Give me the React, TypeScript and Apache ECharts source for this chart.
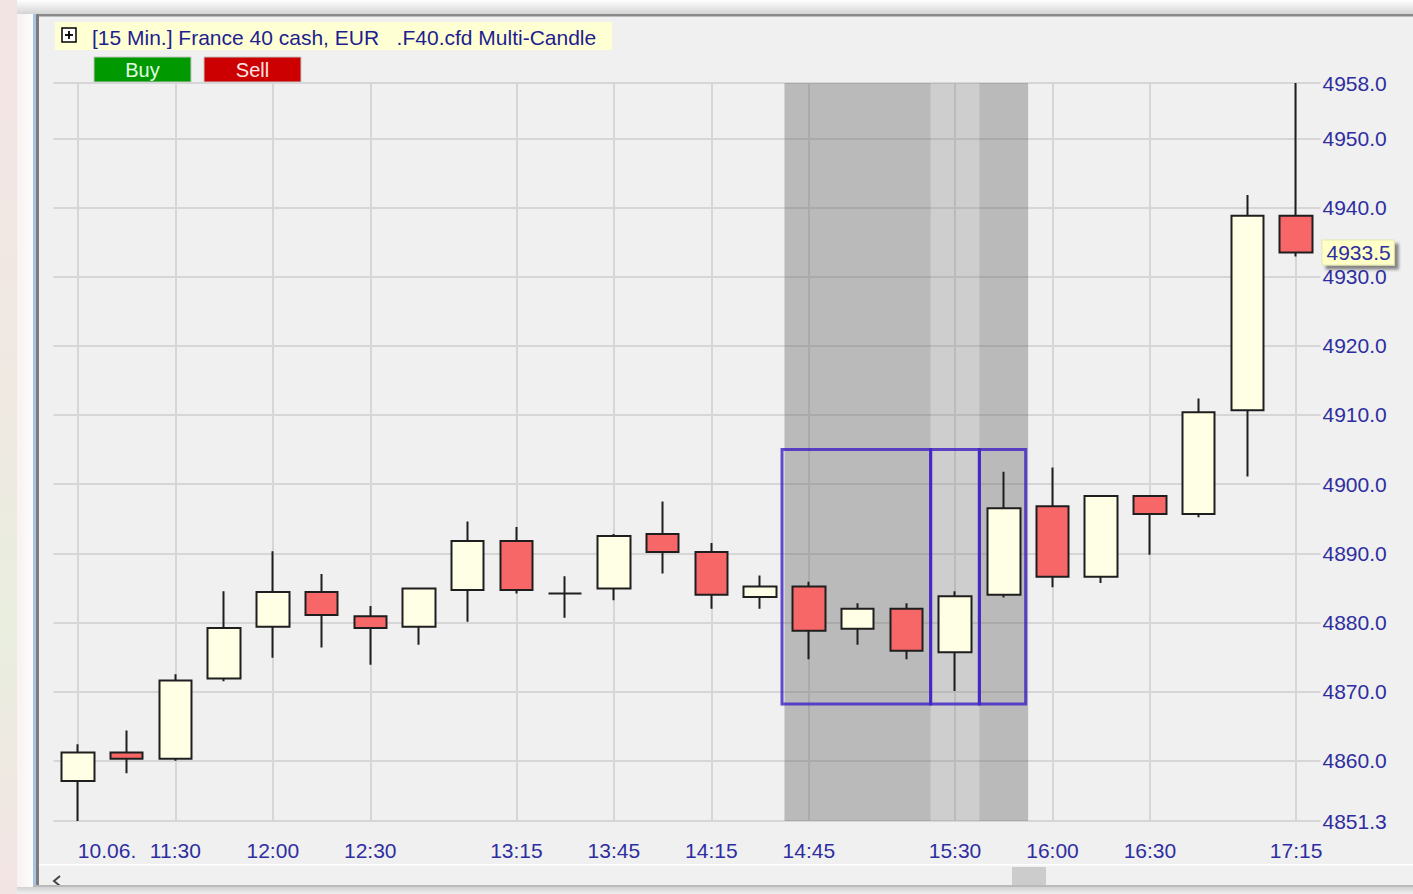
import React, { useEffect, useRef } from "react";
import * as echarts from "echarts";

// ---- data ----
const times = [
  "11:00", "11:15", "11:30", "11:45", "12:00", "12:15", "12:30", "12:45",
  "13:00", "13:15", "13:30", "13:45", "14:00", "14:15", "14:30", "14:45",
  "15:00", "15:15", "15:30", "15:45", "16:00", "16:15", "16:30", "16:45",
  "17:00", "17:15",
];
const dateLabel = "10.06.";
const labelIndices = [0, 2, 4, 6, 9, 11, 13, 15, 18, 20, 22, 25];

const opens = [
  4857.1, 4861.2, 4860.3, 4871.9, 4879.4, 4884.4, 4880.9, 4879.4,
  4884.7, 4891.8, 4884.2, 4884.9, 4892.8, 4890.2, 4883.7, 4885.2,
  4879.1, 4882.0, 4875.7, 4884.0, 4896.8, 4886.6, 4898.3, 4895.7,
  4910.7, 4938.8,
];
const closes = [
  4861.2, 4860.3, 4871.6, 4879.2, 4884.4, 4881.1, 4879.2, 4884.9,
  4891.8, 4884.7, 4884.2, 4892.5, 4890.2, 4884.0, 4885.2, 4878.8,
  4882.0, 4875.9, 4883.8, 4896.5, 4886.6, 4898.3, 4895.7, 4910.4,
  4938.8, 4933.5,
];
const lows = [
  4851.3, 4858.2, 4860.0, 4871.5, 4874.9, 4876.4, 4873.9, 4876.8,
  4880.1, 4884.2, 4880.7, 4883.2, 4887.1, 4882.0, 4882.0, 4874.7,
  4876.8, 4874.7, 4870.1, 4883.6, 4885.1, 4885.7, 4889.8, 4895.2,
  4901.1, 4932.9,
];
const highs = [
  4862.4, 4864.4, 4872.5, 4884.5, 4890.3, 4887.0, 4882.4, 4884.9,
  4894.6, 4893.8, 4886.7, 4892.8, 4897.5, 4891.5, 4886.8, 4885.9,
  4882.8, 4882.8, 4884.5, 4901.8, 4902.4, 4898.3, 4898.3, 4912.4,
  4941.8, 4958.0,
];

const yMin = 4851.3;
const yMax = 4958.0;

// shaded session blocks (in candle-index units, band edges)
const shadeFrom = [14.5, 17.5, 18.5];
const shadeTo = [17.5, 18.5, 19.5];
const shadeDark = [true, false, true];

// multi-candle boxes
const boxFrom = [14.45, 17.5, 18.5];
const boxTo = [17.5, 18.5, 19.45];
const boxLow = 4868.2;
const boxHigh = 4905.0;

const titleText = "[15 Min.] France 40 cash, EUR   .F40.cfd Multi-Candle";
const buyText = "Buy";
const sellText = "Sell";

const FONT = "'Liberation Sans', Arial, sans-serif";
const LABEL_COLOR = "#2e2ea0";

export default function App() {
  const ref = useRef<HTMLDivElement>(null);

  useEffect(() => {
    if (!ref.current) return;
    const chart = echarts.init(ref.current, undefined, { renderer: "svg" });

    const candleData = times.map((_, i) => [opens[i], closes[i], lows[i], highs[i]]);
    const lastClose = closes[closes.length - 1];

    const shadeData = shadeFrom.map((f, i) => [
      {
        xAxis: f,
        itemStyle: {
          color: shadeDark[i] ? "rgba(100,100,100,0.39)" : "rgba(100,100,100,0.24)",
        },
      },
      { xAxis: shadeTo[i] },
    ]);
    const boxData = boxFrom.map((f, i) => [
      { xAxis: f, yAxis: boxLow },
      { xAxis: boxTo[i], yAxis: boxHigh },
    ]);

    const W = 1413;
    const H = 894;

    const option: any = {
      animation: false,
      backgroundColor: "#f0f0f0",
      textStyle: { fontFamily: FONT },
      grid: { left: 53.5, right: W - 1320.5, top: 83, bottom: H - 821, containLabel: false },
      xAxis: [
        {
          type: "category",
          data: times,
          boundaryGap: true,
          axisLine: { show: false },
          axisTick: { show: false },
          axisLabel: {
            interval: (idx: number) => labelIndices.includes(idx),
            formatter: (v: string, idx: number) => (idx === 0 ? dateLabel : v),
            color: LABEL_COLOR,
            fontSize: 21,
            fontFamily: FONT,
            margin: 19,
            alignMinLabel: "left",
          },
          splitLine: {
            show: true,
            alignWithLabel: true,
            interval: (idx: number) => labelIndices.includes(idx),
            lineStyle: { color: "#d6d6d6", width: 2 },
          },
        },
        {
          type: "value",
          min: -0.5,
          max: times.length - 0.5,
          show: false,
          splitLine: { show: false },
        },
      ],
      yAxis: {
        type: "value",
        position: "right",
        min: yMin,
        max: yMax,
        splitNumber: 10,
        scale: true,
        axisLine: { show: false },
        axisTick: { show: false },
        axisLabel: {
          formatter: (v: number) => v.toFixed(1),
          color: LABEL_COLOR,
          fontSize: 21,
          fontFamily: FONT,
          margin: 2,
          showMinLabel: true,
          showMaxLabel: true,
        },
        splitLine: { lineStyle: { color: "#d6d6d6", width: 2 } },
      },
      series: [
        {
          type: "line",
          xAxisIndex: 1,
          yAxisIndex: 0,
          data: [],
          z: 1,
          silent: true,
          markArea: { silent: true, z: 1, data: shadeData },
        },
        {
          type: "candlestick",
          xAxisIndex: 0,
          yAxisIndex: 0,
          data: candleData,
          barWidth: 33,
          z: 3,
          itemStyle: {
            color: "#ffffe6",
            color0: "#f86767",
            borderColor: "#1e1e1e",
            borderColor0: "#1e1e1e",
            borderWidth: 2,
          },
        },
        {
          type: "line",
          xAxisIndex: 1,
          yAxisIndex: 0,
          data: [],
          z: 5,
          silent: true,
          markArea: {
            silent: true,
            z: 5,
            itemStyle: {
              color: "rgba(0,0,0,0)",
              borderColor: "rgba(66,34,196,0.82)",
              borderWidth: 3,
            },
            data: boxData,
          },
          markLine: {
            silent: true,
            z: 10,
            symbol: ["none", "none"],
            lineStyle: { color: "rgba(0,0,0,0)", width: 0, type: "solid" },
            label: {
              show: true,
              position: "end",
              distance: 2,
              formatter: () => lastClose.toFixed(1),
              color: LABEL_COLOR,
              fontSize: 21,
              fontFamily: FONT,
              backgroundColor: "#ffffc8",
              borderColor: "#e6e6b0",
              borderWidth: 1,
              padding: [2, 3, 1, 4],
              shadowColor: "rgba(0,0,0,0.45)",
              shadowBlur: 3,
              shadowOffsetX: 4,
              shadowOffsetY: 4,
            },
            data: [{ yAxis: lastClose }],
          },
        },
      ],
      graphic: [
        // left blurred background strip
        {
          type: "rect",
          shape: { x: 0, y: 0, width: 17, height: H },
          style: {
            fill: new echarts.graphic.LinearGradient(0, 0, 0, 1, [
              { offset: 0, color: "#f3e4e4" },
              { offset: 0.45, color: "#efe9e2" },
              { offset: 0.7, color: "#e9eedf" },
              { offset: 1, color: "#f3e4e4" },
            ]),
          },
          silent: true,
        },
        {
          type: "rect",
          shape: { x: 17, y: 0, width: 17, height: H },
          style: {
            fill: new echarts.graphic.LinearGradient(0, 0, 1, 0, [
              { offset: 0, color: "#f8f1f1" },
              { offset: 1, color: "#fdfdfd" },
            ]),
          },
          silent: true,
        },
        // top shadow strip
        {
          type: "rect",
          shape: { x: 17, y: 0, width: W - 17, height: 14 },
          style: {
            fill: new echarts.graphic.LinearGradient(0, 0, 0, 1, [
              { offset: 0, color: "#ffffff" },
              { offset: 1, color: "#d4d4d4" },
            ]),
          },
          silent: true,
        },
        {
          type: "rect",
          shape: { x: 33, y: 14, width: W - 33, height: 2.5 },
          style: { fill: "#8a8a8a" },
          silent: true,
        },
        // left frame
        {
          type: "rect",
          shape: { x: 33, y: 14, width: 3, height: 872 },
          style: { fill: "#a9c4e2" },
          silent: true,
        },
        {
          type: "rect",
          shape: { x: 36, y: 14, width: 3, height: 872 },
          style: { fill: "#7c7c7c" },
          silent: true,
        },
        // bottom scrollbar
        {
          type: "rect",
          shape: { x: 39, y: 864, width: W - 39, height: 1.5 },
          style: { fill: "#ffffff" },
          silent: true,
        },
        {
          type: "rect",
          shape: { x: 1012, y: 867, width: 34, height: 18 },
          style: { fill: "#cccccc" },
          silent: true,
        },
        {
          type: "polyline",
          shape: { points: [[60, 876], [54, 881], [60, 886]] },
          style: { stroke: "#444", lineWidth: 2, fill: "none" },
          silent: true,
        },
        {
          type: "rect",
          shape: { x: 33, y: 885, width: W - 33, height: 2 },
          style: { fill: "#b9b9b9" },
          silent: true,
        },
        {
          type: "rect",
          shape: { x: 17, y: 887, width: W - 17, height: 7 },
          style: {
            fill: new echarts.graphic.LinearGradient(0, 0, 0, 1, [
              { offset: 0, color: "#d2d2d2" },
              { offset: 1, color: "#efefef" },
            ]),
          },
          silent: true,
        },
        // title bar
        {
          type: "rect",
          shape: { x: 55, y: 22, width: 557, height: 28 },
          style: { fill: "#ffffd4" },
          silent: true,
        },
        {
          type: "rect",
          shape: { x: 62, y: 28, width: 14, height: 14 },
          style: { fill: "#ffffff", stroke: "#000000", lineWidth: 1.5 },
          silent: true,
        },
        {
          type: "line",
          shape: { x1: 65, y1: 35, x2: 73, y2: 35 },
          style: { stroke: "#000", lineWidth: 1.8 },
          silent: true,
        },
        {
          type: "line",
          shape: { x1: 69, y1: 31, x2: 69, y2: 39 },
          style: { stroke: "#000", lineWidth: 1.8 },
          silent: true,
        },
        {
          type: "text",
          x: 92,
          y: 37,
          style: {
            text: titleText,
            fill: "#1e1e8e",
            font: `21px ${FONT}`,
            textVerticalAlign: "middle",
            verticalAlign: "middle",
          },
          silent: true,
        },
        // buttons
        {
          type: "rect",
          shape: { x: 94, y: 57, width: 97, height: 25 },
          style: { fill: "#009a00", stroke: "#c4c4c4", lineWidth: 1 },
          silent: true,
        },
        {
          type: "text",
          x: 142.5,
          y: 70,
          style: {
            text: buyText,
            fill: "#e4ffe4",
            font: `20px ${FONT}`,
            align: "center",
            verticalAlign: "middle",
          },
          silent: true,
        },
        {
          type: "rect",
          shape: { x: 204, y: 57, width: 97, height: 25 },
          style: { fill: "#cc0000", stroke: "#c4c4c4", lineWidth: 1 },
          silent: true,
        },
        {
          type: "text",
          x: 252.5,
          y: 70,
          style: {
            text: sellText,
            fill: "#ffe4e4",
            font: `20px ${FONT}`,
            align: "center",
            verticalAlign: "middle",
          },
          silent: true,
        },
      ],
    };

    chart.setOption(option);
    return () => {
      chart.dispose();
    };
  }, []);

  return (
    <div
      ref={ref}
      style={{ position: "fixed", left: 0, top: 0, width: 1413, height: 894 }}
    />
  );
}
